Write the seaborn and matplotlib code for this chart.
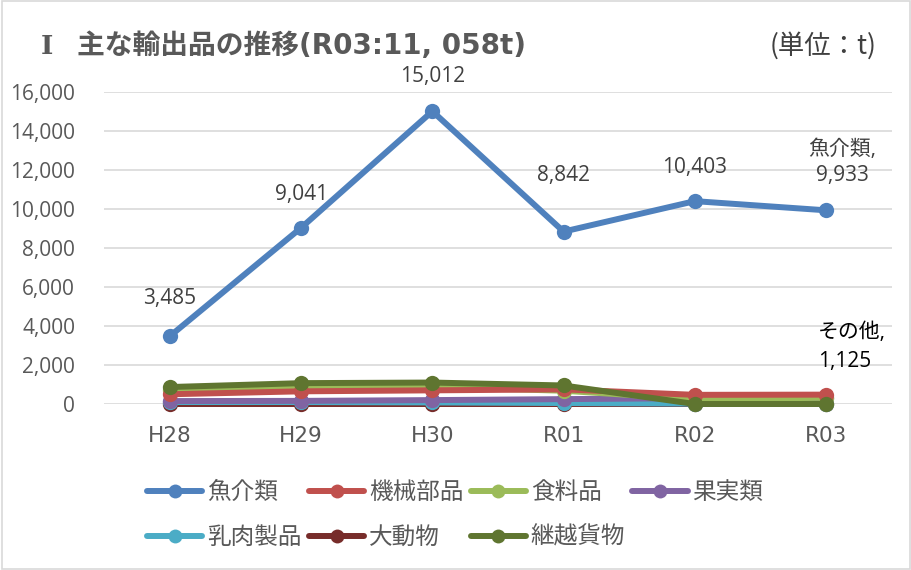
import matplotlib
matplotlib.use("Agg")
import matplotlib.pyplot as plt
import seaborn as sns
import pandas as pd
from matplotlib.lines import Line2D

years = ["H28", "H29", "H30", "R01", "R02", "R03"]
series_names = ["魚介類", "機械部品", "食料品", "果実類", "乳肉製品", "大動物", "継越貨物"]
fish = [3485, 9041, 15012, 8842, 10403, 9933]
machine = [500, 650, 700, 750, 470, 480]
food = [700, 800, 870, 680, 250, 320]
fruit = [150, 160, 200, 250, 300, 300]
dairy = [100, 100, 80, 50, 20, 25]
animal = [0, 0, 0, 0, 0, 0]
transit = [870, 1070, 1100, 950, 0, 0]
colors = ["#4f81bd", "#c0504d", "#9bbb59", "#8064a2", "#4bacc6", "#772c2a", "#5f7530"]

values = [fish, machine, food, fruit, dairy, animal, transit]
rows = []
for name, vals in zip(series_names, values):
    for i, (y, v) in enumerate(zip(years, vals)):
        rows.append({"year": y, "pos": i, "series": name, "value": v})
df = pd.DataFrame(rows)

sns.set_theme(style="white")
plt.rcParams["font.family"] = ["Open Sans", "Noto Sans CJK JP", "DejaVu Sans"]

CJK = ["Noto Sans CJK JP", "DejaVu Sans"]
LAT = ["DejaVu Sans", "Noto Sans CJK JP"]
NUM = ["Open Sans", "Noto Sans CJK JP", "DejaVu Sans"]

fig = plt.figure(figsize=(9.12, 5.7), dpi=100)
ax = fig.add_axes([104.4 / 912, 166 / 570, 787.2 / 912, 312 / 570])

draw_order = ["大動物", "乳肉製品", "果実類", "食料品", "機械部品", "継越貨物", "魚介類"]
pal = dict(zip(series_names, colors))
for name in draw_order:
    sub = df[df["series"] == name]
    sns.lineplot(data=sub, x="pos", y="value", ax=ax, color=pal[name], linewidth=4.3,
                 marker="o", markersize=11, markeredgewidth=0, clip_on=False,
                 legend=False, sort=False, zorder=5 if name == "魚介類" else 4)

ax.set_xlim(-0.5, 5.5)
ax.set_ylim(0, 16000)
ax.set_yticks(range(0, 16001, 2000))
ax.set_yticklabels([f"{v:,}" for v in range(0, 16001, 2000)], fontsize=15,
                   color="#595959", family=NUM)
ax.set_xticks(range(len(years)))
ax.set_xticklabels(years, fontsize=15.5, color="#595959", family=LAT)
ax.tick_params(axis="x", pad=16, length=0)
ax.tick_params(axis="y", pad=21, length=0)
ax.set_xlabel("")
ax.set_ylabel("")
ax.grid(axis="y", color="#d9d9d9", linewidth=1.2)
ax.set_axisbelow(True)
for s in ax.spines.values():
    s.set_visible(False)

# data labels (offsets in pixels, center of label above point)
label_dy = [38, 33, 35, 56, 34]
for i, v in enumerate(fish[:-1]):
    ax.annotate(f"{v:,}", (i, v), xytext=(0, label_dy[i] * 0.72), textcoords="offset points",
                ha="center", va="center", fontsize=15, color="#404040", family=NUM)
ax.annotate(f"魚介類,\n{fish[-1]:,}", (5, fish[-1]), xytext=(16 * 0.72, 48 * 0.72),
            textcoords="offset points", ha="center", va="center", fontsize=15,
            color="#404040", linespacing=1.35, family=NUM)
other_total = sum(v[-1] for v in values[1:])
ax.annotate(f"その他,\n{other_total:,}", (5, 0), xytext=(-8 * 0.72, 57 * 0.72),
            textcoords="offset points", ha="left", va="center", fontsize=15,
            color="black", linespacing=1.45, family=NUM)

fig.text(47 / 912, 1 - 46 / 570, "Ⅰ", fontsize=19, fontweight="bold", color="#595959",
         va="center", ha="center", family=["DejaVu Serif", "Noto Sans CJK JP"])
fig.text(77 / 912, 1 - 46 / 570, "主な輸出品の推移(R03:11, 058t)", fontsize=20,
         fontweight="bold", color="#595959", va="center", ha="left", family=LAT)
fig.text(877 / 912, 1 - 46 / 570, "(単位：t)", fontsize=19, color="#404040",
         va="center", ha="right", family=CJK)

order = [0, 4, 1, 5, 2, 6, 3]
handles = [Line2D([0], [0], color=colors[k], linewidth=4.3, marker="o", markersize=10,
                  markeredgewidth=0) for k in order]
labels = [series_names[k] for k in order]
leg = fig.legend(handles, labels, loc="upper left", bbox_to_anchor=(147 / 912, 1 - 481 / 570),
                 ncol=4, frameon=False, handlelength=2.35, columnspacing=0.3,
                 handletextpad=0.2, labelspacing=0.93, borderpad=0, borderaxespad=0,
                 prop={"family": CJK, "size": 17})
for t in leg.get_texts():
    t.set_color("#595959")

fig.patches.append(plt.Rectangle((0.002, 0.002), 0.996, 0.996, transform=fig.transFigure,
                                 fill=False, edgecolor="#d9d9d9", linewidth=1.2))

fig.savefig("out.png", dpi=100)
